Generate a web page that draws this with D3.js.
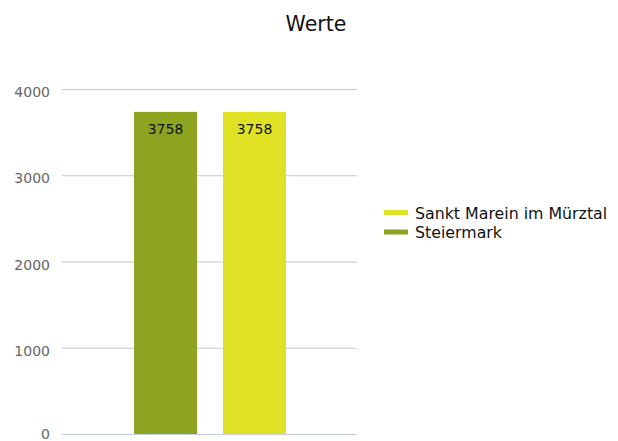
<!DOCTYPE html>
<html><head><meta charset="utf-8">
<script src="https://cdn.jsdelivr.net/npm/d3@7"></script>
<style>body{margin:0;background:#fff;font-family:"DejaVu Sans",sans-serif;}</style>
</head><body><svg id="c" width="618" height="441"></svg>
<script>
const categories = ["Steiermark", "Sankt Marein im Mürztal"];
const values = [3758, 3758];
const colors = ["#8ca420", "#dfe224"];
const legendOrder = ["Sankt Marein im Mürztal", "Steiermark"];
const yTicks = [0, 1000, 2000, 3000, 4000];
const title = "Werte";

const svg = d3.select("#c");
const m = {l: 62, r: 357, t: 89, b: 434};
const y = d3.scaleLinear().domain([0, 4000]).range([m.b, m.t]);
const x = d3.scaleBand().domain(categories).range([134, 286]).paddingInner(26 / 89).paddingOuter(0);

svg.append("text").attr("x", 316).attr("y", 31).attr("text-anchor", "middle")
  .attr("font-size", 20.5).attr("fill", "#111").text(title);

const ax = svg.append("g").attr("transform", `translate(${m.l},0)`)
  .call(d3.axisLeft(y).tickValues(yTicks).tickSize(-(m.r - m.l)).tickPadding(8).tickFormat(d3.format("d")));
ax.select(".domain").remove();
ax.selectAll(".tick line").attr("stroke", d => d === 0 ? "#c0d0e0" : "#c8c8c8").attr("stroke-width", 1.2);
ax.selectAll(".tick text").attr("font-size", 14).attr("fill", "#666").attr("font-family", "DejaVu Sans")
  .attr("x", -12).attr("dy", d => d === 0 ? "0.3em" : "0.55em");

svg.selectAll("rect.bar").data(categories).enter().append("rect")
  .attr("x", d => x(d)).attr("width", x.bandwidth())
  .attr("y", (d, i) => y(values[i]) + 2).attr("height", (d, i) => y(0) - y(values[i]) - 2)
  .attr("fill", (d, i) => colors[i]);

svg.selectAll("text.lbl").data(categories).enter().append("text")
  .attr("x", d => x(d) + x.bandwidth() / 2).attr("y", (d, i) => y(values[i]) + 24)
  .attr("text-anchor", "middle").attr("font-size", 14).attr("fill", "#111")
  .text((d, i) => values[i]);

const lg = svg.append("g");
legendOrder.forEach((name, i) => {
  const ci = categories.indexOf(name);
  lg.append("rect").attr("x", 384).attr("y", 210 + i * 19.5).attr("width", 24).attr("height", 5).attr("fill", colors[ci]);
  lg.append("text").attr("x", 415).attr("y", 218.5 + i * 19.5).attr("font-size", 15.8).attr("fill", "#111").text(name);
});
</script></body></html>
